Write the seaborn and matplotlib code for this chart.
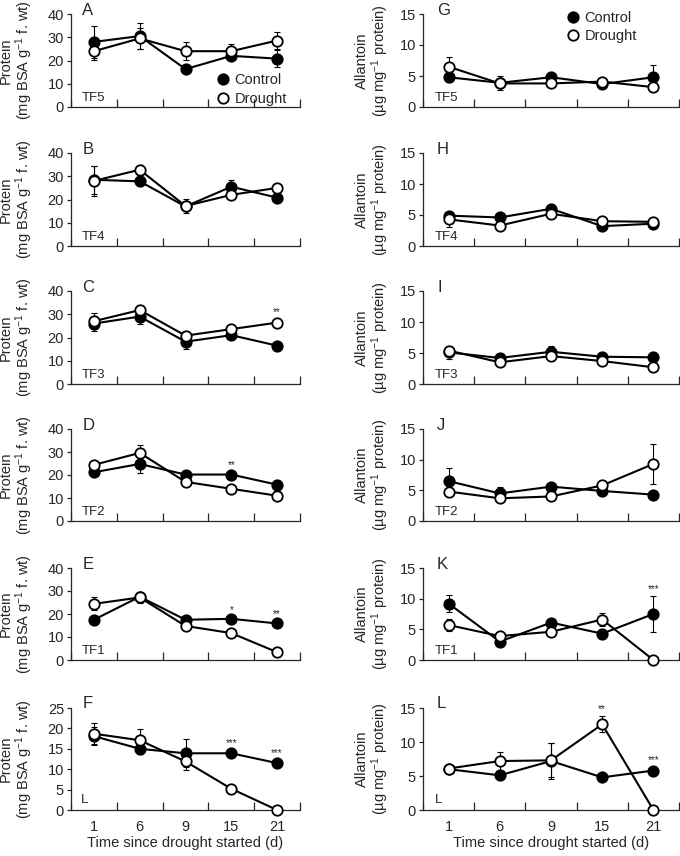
import numpy as np
import pandas as pd
import matplotlib.pyplot as plt
import seaborn as sns
from matplotlib.lines import Line2D

sns.set_style("ticks")
plt.rcParams["font.family"] = ["Liberation Sans", "DejaVu Sans"]
plt.rcParams["mathtext.default"] = "regular"

# days since drought started (categorical, evenly spaced)
days = ["1", "6", "9", "15", "21"]

# Protein (mg BSA g-1 f. wt), left column
a_ctrl = [28.0, 30.5, 16.3, 22.0, 20.8]
a_ctrl_err = [7.0, 5.5, 1.0, 1.5, 3.7]
a_drou = [24.0, 29.5, 24.0, 24.0, 28.6]
a_drou_err = [3.6, 4.5, 3.8, 3.3, 3.8]

b_ctrl = [28.5, 27.8, 17.0, 25.5, 20.8]
b_ctrl_err = [6.0, 1.5, 1.5, 3.0, 1.5]
b_drou = [28.0, 32.8, 17.2, 22.0, 25.0]
b_drou_err = [6.3, 2.2, 3.0, 1.5, 1.5]

c_ctrl = [26.0, 29.0, 18.2, 21.0, 16.5]
c_ctrl_err = [3.0, 3.0, 3.0, 1.2, 1.0]
c_drou = [27.0, 31.8, 20.8, 23.6, 26.4]
c_drou_err = [3.5, 2.2, 2.0, 1.5, 1.5]

d_ctrl = [21.2, 24.8, 20.2, 20.2, 15.8]
d_ctrl_err = [1.8, 3.8, 1.2, 1.2, 1.5]
d_drou = [24.4, 29.6, 17.0, 14.0, 11.0]
d_drou_err = [1.5, 3.6, 1.0, 1.0, 2.0]

e_ctrl = [17.5, 27.5, 17.5, 17.9, 15.9]
e_ctrl_err = [1.0, 2.2, 1.0, 1.0, 1.0]
e_drou = [24.4, 27.2, 14.8, 11.7, 3.4]
e_drou_err = [2.8, 2.4, 1.0, 1.0, 0.8]

f_ctrl = [18.1, 15.0, 13.9, 13.9, 11.5]
f_ctrl_err = [2.2, 1.3, 3.4, 0.8, 0.8]
f_drou = [18.7, 17.1, 11.9, 5.2, 0.0]
f_drou_err = [2.6, 2.7, 2.2, 0.5, 0.0]

# Allantoin (ug mg-1 protein), right column
g_ctrl = [4.8, 3.9, 4.8, 3.7, 4.8]
g_ctrl_err = [0.8, 1.1, 0.5, 0.4, 1.9]
g_drou = [6.5, 3.8, 3.8, 4.1, 3.2]
g_drou_err = [1.5, 0.7, 0.5, 0.4, 0.5]

h_ctrl = [4.9, 4.6, 6.0, 3.2, 3.6]
h_ctrl_err = [0.5, 0.4, 0.5, 0.4, 0.4]
h_drou = [4.3, 3.3, 5.2, 4.0, 3.9]
h_drou_err = [1.2, 0.5, 0.5, 0.4, 0.4]

i_ctrl = [5.1, 4.2, 5.2, 4.4, 4.3]
i_ctrl_err = [1.0, 0.4, 0.9, 0.4, 0.4]
i_drou = [5.4, 3.5, 4.5, 3.7, 2.7]
i_drou_err = [0.6, 0.4, 0.6, 0.4, 0.3]

j_ctrl = [6.5, 4.5, 5.6, 4.9, 4.3]
j_ctrl_err = [2.1, 1.0, 0.5, 0.4, 0.5]
j_drou = [4.8, 3.7, 4.0, 5.8, 9.3]
j_drou_err = [0.6, 0.5, 0.4, 0.5, 3.2]

k_ctrl = [9.2, 3.0, 6.1, 4.3, 7.5]
k_ctrl_err = [1.4, 0.4, 0.5, 0.5, 3.0]
k_drou = [5.7, 3.9, 4.6, 6.6, 0.0]
k_drou_err = [1.0, 0.4, 0.4, 1.1, 0.0]

l_ctrl = [6.0, 5.1, 7.2, 4.8, 5.8]
l_ctrl_err = [0.4, 0.6, 2.7, 0.4, 0.5]
l_drou = [6.1, 7.2, 7.3, 12.6, 0.0]
l_drou_err = [0.4, 1.4, 2.5, 1.2, 0.0]

# significance marks: (day index, label)
c_stars = [(4, "**")]
d_stars = [(3, "**")]
e_stars = [(3, "*"), (4, "**")]
f_stars = [(3, "***"), (4, "***")]
k_stars = [(4, "***")]
l_stars = [(3, "**"), (4, "***")]

left_panels = [
    ("A", "TF5", a_ctrl, a_ctrl_err, a_drou, a_drou_err, []),
    ("B", "TF4", b_ctrl, b_ctrl_err, b_drou, b_drou_err, []),
    ("C", "TF3", c_ctrl, c_ctrl_err, c_drou, c_drou_err, c_stars),
    ("D", "TF2", d_ctrl, d_ctrl_err, d_drou, d_drou_err, d_stars),
    ("E", "TF1", e_ctrl, e_ctrl_err, e_drou, e_drou_err, e_stars),
    ("F", "L", f_ctrl, f_ctrl_err, f_drou, f_drou_err, f_stars),
]
right_panels = [
    ("G", "TF5", g_ctrl, g_ctrl_err, g_drou, g_drou_err, []),
    ("H", "TF4", h_ctrl, h_ctrl_err, h_drou, h_drou_err, []),
    ("I", "TF3", i_ctrl, i_ctrl_err, i_drou, i_drou_err, []),
    ("J", "TF2", j_ctrl, j_ctrl_err, j_drou, j_drou_err, []),
    ("K", "TF1", k_ctrl, k_ctrl_err, k_drou, k_drou_err, k_stars),
    ("L", "L", l_ctrl, l_ctrl_err, l_drou, l_drou_err, l_stars),
]

W, H = 680, 856
row_bottom = [107, 246, 384, 521, 660, 810]
row_height = [93, 93, 93, 92, 92, 102]
pos = np.arange(len(days))
FS = 10.5

fig = plt.figure(figsize=(6.8, 8.56), dpi=100)


def draw_series(ax, vals, errs, face):
    ax.errorbar(pos, vals, yerr=errs, fmt="none", ecolor="black",
                elinewidth=0.8, capsize=2.5, capthick=0.8, zorder=2)
    df = pd.DataFrame({"pos": pos, "val": vals})
    sns.lineplot(data=df, x="pos", y="val", ax=ax, color="black", lw=1.5,
                 marker="o", markersize=7.5, markerfacecolor=face,
                 markeredgecolor="black", markeredgewidth=1.3,
                 clip_on=False, zorder=3)


def draw_panel(ax, panel, ylim, ystep, ylabel, bottom, letter_x, pad):
    letter, tag, ctrl, ctrl_err, drou, drou_err, stars = panel
    draw_series(ax, ctrl, ctrl_err, "black")
    draw_series(ax, drou, drou_err, "white")
    for i, s in stars:
        top = max(ctrl[i] + ctrl_err[i], drou[i] + drou_err[i])
        ax.annotate(s, (pos[i], top), xytext=(0, 5), textcoords="offset points",
                    ha="center", va="center", fontsize=7)
    ax.set_xlim(-0.5, 4.5)
    ax.set_ylim(*ylim)
    ax.set_yticks(np.arange(ylim[0], ylim[1] + 0.1, ystep))
    ax.set_xticks(np.arange(-0.5, 5, 1))
    ax.set_xticklabels([])
    ax.set_xticks(pos, minor=True)
    if bottom:
        ax.set_xticklabels(days, minor=True)
        ax.set_xlabel("Time since drought started (d)", fontsize=FS, labelpad=2)
    else:
        ax.set_xticklabels([], minor=True)
        ax.set_xlabel("")
    ax.tick_params(axis="x", which="major", direction="in", length=6, width=0.9)
    ax.tick_params(axis="x", which="minor", length=0, labelsize=FS, pad=7)
    ax.tick_params(axis="y", direction="out", length=3, width=0.9, labelsize=FS, pad=2)
    ax.set_ylabel(ylabel, fontsize=FS, labelpad=pad, linespacing=1.05)
    for sp in ["left", "bottom"]:
        ax.spines[sp].set_linewidth(0.9)
    sns.despine(ax=ax)
    ax.text(letter_x, 1.04, letter, transform=ax.transAxes, fontsize=12,
            ha="left", va="center")
    ax.text(0.045, 0.1, tag, transform=ax.transAxes, fontsize=9.5,
            ha="left", va="center")


prot_label = "Protein\n(mg BSA g$^{-1}$ f. wt)"
allan_label = "Allantoin\n(µg mg$^{-1}$ protein)"

left_axes = []
right_axes = []
for r in range(6):
    yb = 1 - row_bottom[r] / H
    hh = row_height[r] / H
    axl = fig.add_axes([71 / W, yb, 229 / W, hh])
    axr = fig.add_axes([423 / W, yb, 256 / W, hh])
    ylim_l = (0, 25) if r == 5 else (0, 40)
    step_l = 5 if r == 5 else 10
    draw_panel(axl, left_panels[r], ylim_l, step_l, prot_label, r == 5, 0.05, 9)
    draw_panel(axr, right_panels[r], (0, 15), 5, allan_label, r == 5, 0.055, 6)
    left_axes.append(axl)
    right_axes.append(axr)

handles = [
    Line2D([], [], ls="none", marker="o", ms=7.5, mfc="black", mec="black", mew=1.3),
    Line2D([], [], ls="none", marker="o", ms=7.5, mfc="white", mec="black", mew=1.3),
]
names = ["Control", "Drought"]
left_axes[0].legend(handles, names, loc="lower right", bbox_to_anchor=(0.98, -0.08),
                    frameon=False, fontsize=FS, handletextpad=0.3,
                    handlelength=1.0, labelspacing=0.3, borderaxespad=0.2)
right_axes[0].legend(handles, names, loc="upper right", bbox_to_anchor=(0.87, 1.13),
                     frameon=False, fontsize=FS, handletextpad=0.3,
                     handlelength=1.0, labelspacing=0.3, borderaxespad=0.2)

fig.savefig("out.png", dpi=100)
